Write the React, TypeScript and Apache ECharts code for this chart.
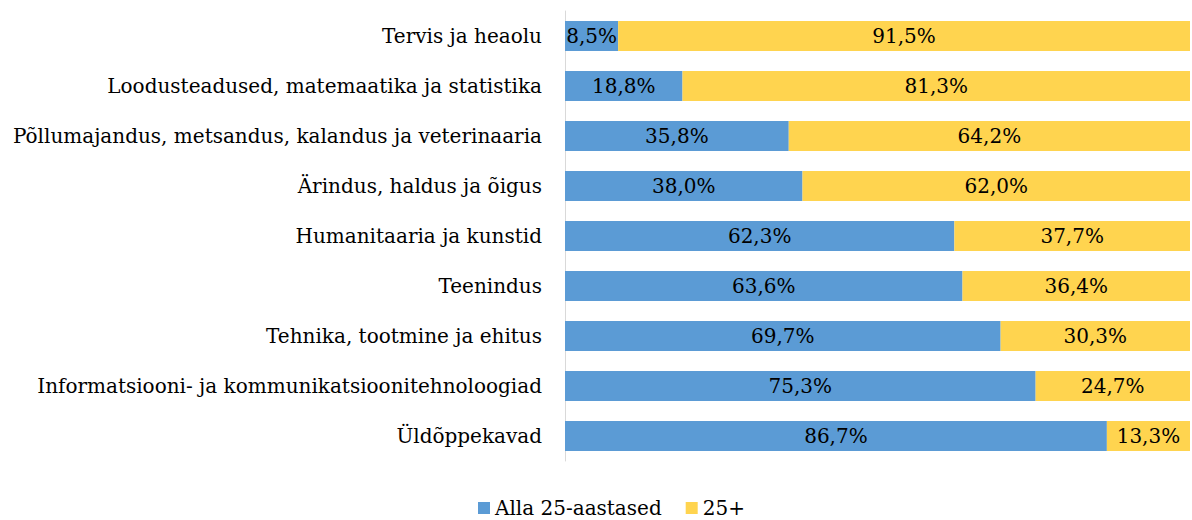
import React, { useEffect, useRef } from "react";
import * as echarts from "echarts";

const categories = [
  "Tervis ja heaolu",
  "Loodusteadused, matemaatika ja statistika",
  "Põllumajandus, metsandus, kalandus ja veterinaaria",
  "Ärindus, haldus ja õigus",
  "Humanitaaria ja kunstid",
  "Teenindus",
  "Tehnika, tootmine ja ehitus",
  "Informatsiooni- ja kommunikatsioonitehnoloogiad",
  "Üldõppekavad",
];
const under25 = [8.5, 18.8, 35.8, 38.0, 62.3, 63.6, 69.7, 75.3, 86.7];
const over25 = [91.5, 81.3, 64.2, 62.0, 37.7, 36.4, 30.3, 24.7, 13.3];
const seriesNames = ["Alla 25-aastased", "25+"];

const FONT = "DejaVu Serif";
const FS = 20;

export default function App() {
  const ref = useRef<HTMLDivElement>(null);
  useEffect(() => {
    if (!ref.current) return;
    const chart = echarts.init(ref.current, null, { renderer: "svg" });
    const fmt = (p: any) => p.value.toFixed(1).replace(".", ",") + "%";
    chart.setOption({
      animation: false,
      textStyle: { fontFamily: FONT },
      grid: { left: 565, right: 2, top: 11, height: 450 },
      legend: {
        top: 498,
        left: 478,
        padding: 0,
        itemWidth: 12,
        itemHeight: 12,
        itemGap: 24,
        icon: "rect",
        textStyle: { fontFamily: FONT, fontSize: FS, color: "#000", lineHeight: 20 },
        data: seriesNames,
      },
      xAxis: {
        type: "value",
        min: 0,
        max: 100,
        show: false,
      },
      yAxis: {
        type: "category",
        inverse: true,
        data: categories,
        axisLine: { show: true, lineStyle: { color: "#D9D9D9", width: 1 } },
        axisTick: { show: false },
        axisLabel: { fontFamily: FONT, fontSize: FS, color: "#000", margin: 23 },
      },
      series: [
        {
          name: seriesNames[0],
          type: "bar",
          stack: "total",
          data: under25,
          barWidth: 30,
          itemStyle: { color: "#5B9BD5" },
          label: { show: true, position: "inside", formatter: fmt, color: "#000", fontFamily: FONT, fontSize: FS },
        },
        {
          name: seriesNames[1],
          type: "bar",
          stack: "total",
          data: over25,
          barWidth: 30,
          itemStyle: { color: "#FFD44F" },
          label: { show: true, position: "inside", formatter: fmt, color: "#000", fontFamily: FONT, fontSize: FS },
        },
      ],
    });
    return () => chart.dispose();
  }, []);
  return (
    <div
      ref={ref}
      style={{ position: "fixed", left: 0, top: 0, width: 1192, height: 520, background: "#fff" }}
    />
  );
}
